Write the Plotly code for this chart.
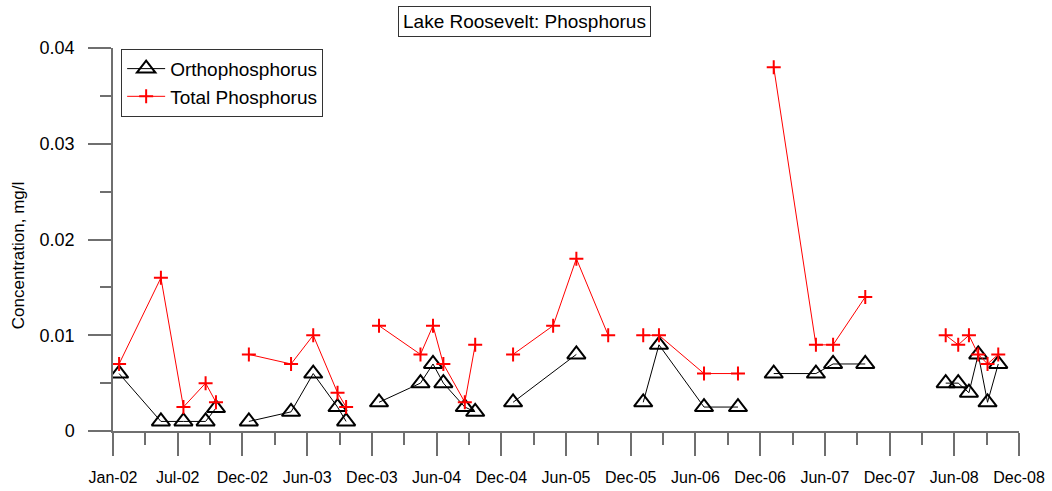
import plotly.graph_objects as go
import pandas as pd

# ---------------- data ----------------
SAMPLE_DATES = [
    "2002-01-18", "2002-05-15", "2002-07-17", "2002-09-17", "2002-10-16",
    "2003-01-16", "2003-05-14", "2003-07-15", "2003-09-21", "2003-10-15",
    "2004-01-15", "2004-05-10", "2004-06-14", "2004-07-13", "2004-09-11", "2004-10-10",
    "2005-01-24", "2005-05-16", "2005-07-20", "2005-10-17",
    "2006-01-23", "2006-03-08", "2006-07-12", "2006-10-15",
    "2007-01-23", "2007-05-21", "2007-07-08", "2007-10-06",
    "2008-05-18", "2008-06-22", "2008-07-22", "2008-08-17", "2008-09-12", "2008-10-12",
]
ORTHOPHOSPHORUS = [
    0.006, 0.001, 0.001, 0.001, 0.0024,
    0.001, 0.002, 0.006, 0.0025, 0.001,
    0.003, 0.005, 0.007, 0.005, 0.0025, 0.002,
    0.003, None, 0.008, None,
    0.003, 0.009, 0.0025, 0.0025,
    0.006, 0.006, 0.007, 0.007,
    0.005, 0.005, 0.004, 0.008, 0.003, 0.007,
]
TOTAL_PHOSPHORUS = [
    0.007, 0.016, 0.0025, 0.005, 0.003,
    0.008, 0.007, 0.010, 0.004, 0.0025,
    0.011, 0.008, 0.011, 0.007, 0.003, 0.009,
    0.008, 0.011, 0.018, 0.010,
    0.010, 0.010, 0.006, 0.006,
    0.038, 0.009, 0.009, 0.014,
    0.010, 0.009, 0.010, 0.008, 0.007, 0.008,
]
X_TICK_LABELS = ["Jan-02", "Jul-02", "Dec-02", "Jun-03", "Dec-03", "Jun-04", "Dec-04",
                 "Jun-05", "Dec-05", "Jun-06", "Dec-06", "Jun-07", "Dec-07", "Jun-08", "Dec-08"]
Y_TICK_VALUES = [0, 0.01, 0.02, 0.03, 0.04]
Y_TICK_LABELS = ["0", "0.01", "0.02", "0.03", "0.04"]

# axis scale: ticks every 181 days starting 1 Jan 2002
AXIS_START = pd.Timestamp("2002-01-01")
TICK_STEP_DAYS = 181


def seasonal(dates, values):
    """Break the line between sampling years; skip missing samples."""
    xs, ys, prev = [], [], None
    for d, v in zip(dates, values):
        if v is None:
            continue
        yr = d[:4]
        if prev is not None and yr != prev:
            xs.append(None)
            ys.append(None)
        xs.append(d)
        ys.append(v)
        prev = yr
    return xs, ys


major = [AXIS_START + pd.Timedelta(days=TICK_STEP_DAYS * k) for k in range(len(X_TICK_LABELS))]
minor = [m + pd.Timedelta(days=TICK_STEP_DAYS / 2) for m in major[:-1]]

FONT = "Arial, 'Liberation Sans', sans-serif"
AXIS_GREY = "#6f6f6f"

fig = go.Figure()

ox, oy = seasonal(SAMPLE_DATES, ORTHOPHOSPHORUS)
fig.add_trace(go.Scatter(
    x=ox, y=oy, name="Orthophosphorus", mode="lines+markers",
    line=dict(color="black", width=1),
    marker=dict(symbol="triangle-up-open", size=16, color="black",
                line=dict(color="black", width=2)),
    connectgaps=False,
))

tx, ty = seasonal(SAMPLE_DATES, TOTAL_PHOSPHORUS)
fig.add_trace(go.Scatter(
    x=tx, y=ty, name="Total Phosphorus", mode="lines+markers",
    line=dict(color="red", width=1),
    marker=dict(symbol="cross-thin-open", size=10, color="red",
                line=dict(color="red", width=2)),
    connectgaps=False,
))

fig.update_layout(
    width=1052, height=491,
    margin=dict(l=113, r=33, t=48, b=60, autoexpand=False),
    paper_bgcolor="white", plot_bgcolor="white",
    font=dict(family=FONT, color="black"),
    showlegend=True,
    legend=dict(
        x=0.009, y=0.998, xanchor="left", yanchor="top",
        bordercolor="#333333", borderwidth=1, bgcolor="white",
        font=dict(size=19, family=FONT),
        itemwidth=38,
        tracegroupgap=0,
    ),
    xaxis=dict(
        type="date", automargin=False,
        range=[major[0], major[-1]],
        tickmode="array", tickvals=major, ticktext=X_TICK_LABELS,
        ticks="outside", ticklen=23, tickwidth=1.5, tickcolor=AXIS_GREY,
        showline=True, linecolor=AXIS_GREY, linewidth=1.5,
        showgrid=False, zeroline=False,
        tickfont=dict(size=16, family=FONT),
        ticklabelstandoff=8,
        minor=dict(tickmode="array", tickvals=minor, ticks="outside", ticklen=12,
                   tickwidth=1.5, tickcolor=AXIS_GREY, showgrid=False),
    ),
    yaxis=dict(
        range=[0, 0.04], automargin=False,
        tickmode="array", tickvals=Y_TICK_VALUES, ticktext=Y_TICK_LABELS,
        ticks="outside", ticklen=23, tickwidth=1.5, tickcolor=AXIS_GREY,
        showline=True, linecolor=AXIS_GREY, linewidth=1.5,
        showgrid=False, zeroline=False,
        tickfont=dict(size=18, family=FONT),
        ticklabelstandoff=10,
        minor=dict(dtick=0.005, tick0=0, ticks="outside", ticklen=11,
                   tickwidth=1.5, tickcolor=AXIS_GREY, showgrid=False),
    ),
    annotations=[
        dict(text="Lake Roosevelt: Phosphorus", xref="paper", yref="paper",
             x=0.4542, y=1.0703, xanchor="center", yanchor="middle", showarrow=False,
             font=dict(size=19, family=FONT), bordercolor="#333333", borderwidth=1,
             borderpad=4, bgcolor="white"),
        dict(text="Concentration, mg/l", xref="paper", yref="paper",
             x=-0.1049, y=0.459, xanchor="center", yanchor="middle", showarrow=False,
             textangle=-90, font=dict(size=17, family=FONT)),
    ],
)

fig.write_html("out.html")
